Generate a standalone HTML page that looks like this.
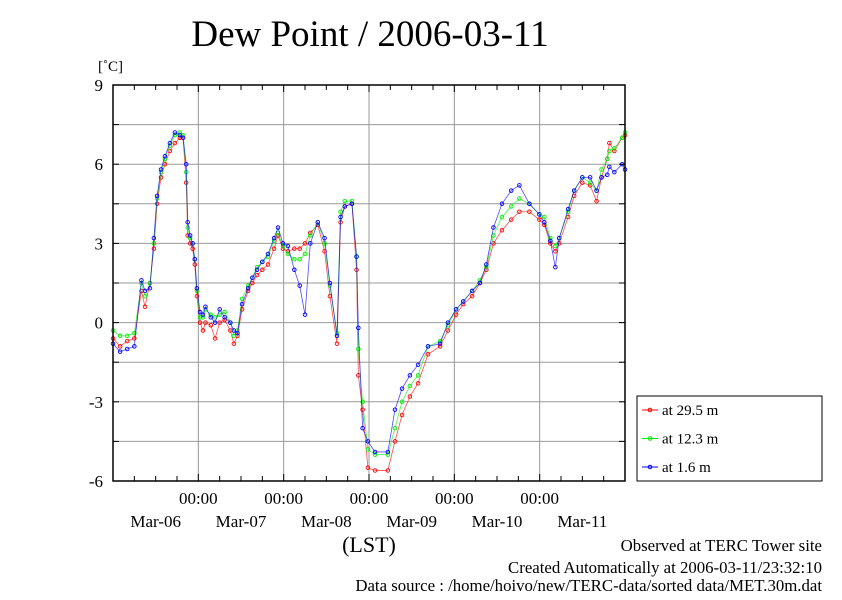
<!DOCTYPE html>
<html><head><meta charset="utf-8"><style>
body{margin:0;background:#fff;}
svg text{font-family:"Liberation Serif",serif;fill:#000;}
</style></head><body>
<svg id="chart" width="842" height="595" xmlns="http://www.w3.org/2000/svg">
<rect width="842" height="595" fill="#fff"/>
<text x="370" y="46" font-size="37" text-anchor="middle">Dew Point / 2006-03-11</text>
<text x="98" y="71" font-size="15">[˚C]</text>
<g id="grid"></g><g id="series"></g><g id="axes"></g>
<text x="369" y="552" font-size="22" text-anchor="middle">(LST)</text>
<text x="822" y="551" font-size="16.8" text-anchor="end">Observed at TERC Tower site</text>
<text x="822" y="573" font-size="16.8" text-anchor="end">Created Automatically at 2006-03-11/23:32:10</text>
<text x="822" y="591" font-size="16.8" text-anchor="end">Data source : /home/hoivo/new/TERC-data/sorted  data/MET.30m.dat</text>
<g id="legend"></g>
</svg>
<script>
const hours = [0,2,4,6,8,9,10.4,11.5,12.4,13.5,14.6,16,17.4,18.8,19.7,20.6,21,21.7,22.4,23,23.6,24.5,25.3,26,27.5,28.7,30,31.4,33,34,35,36.3,38,39.2,40.5,42,43.6,45.3,46.4,47.8,49.2,51,52.5,54,55.5,57.6,59.5,61,63,64,65.2,67.2,68.5,69,70.2,71.7,73.7,77.3,79.3,81.3,83.5,85.8,88.6,92,94.2,96.5,98.5,101,103.2,105,107,109.4,112,114.3,117.1,119.9,121.3,123,124.4,125.5,128,129.7,132,134.2,136,137.4,139,139.6,141,143.2,144];
const at295 = [-0.6,-0.9,-0.7,-0.6,1.2,0.6,1.5,2.8,4.5,5.5,6.0,6.5,6.8,7.0,7.0,5.3,3.3,3.0,2.8,2.2,1.0,0.0,-0.3,0.0,-0.1,-0.6,0.0,0.1,-0.3,-0.8,-0.5,0.5,1.2,1.5,1.8,2.0,2.2,2.8,3.3,2.8,2.7,2.8,2.8,3.0,3.4,3.7,2.7,1.0,-0.8,3.8,4.4,4.5,2.0,-2.0,-3.3,-5.5,-5.6,-5.6,-4.5,-3.5,-2.8,-2.3,-1.2,-0.9,-0.3,0.3,0.7,1.0,1.5,2.0,3.0,3.5,3.9,4.2,4.2,3.9,3.7,3.0,2.7,3.0,4.0,4.8,5.3,5.2,4.6,5.5,6.2,6.8,6.5,7.0,7.1];
const at123 = [-0.3,-0.5,-0.5,-0.4,1.5,1.0,1.5,3.0,4.7,5.7,6.2,6.7,7.1,7.2,7.1,5.7,3.6,3.2,3.0,2.4,1.2,0.2,0.2,0.5,0.3,0.2,0.3,0.4,0.0,-0.5,-0.3,0.9,1.4,1.7,2.1,2.3,2.5,3.1,3.4,2.9,2.6,2.4,2.4,2.6,3.3,3.8,3.0,1.4,-0.4,4.2,4.6,4.6,2.5,-1.0,-3.0,-4.8,-5.0,-5.0,-4.0,-3.0,-2.4,-2.0,-0.9,-0.7,-0.1,0.5,0.8,1.2,1.6,2.1,3.3,4.0,4.4,4.7,4.5,4.1,4.0,3.2,2.9,3.2,4.2,5.0,5.5,5.3,5.0,5.8,6.2,6.5,6.6,7.0,7.2];
const at16 = [-0.8,-1.1,-1.0,-0.9,1.6,1.2,1.3,3.2,4.8,5.8,6.3,6.8,7.2,7.1,7.0,6.0,3.8,3.3,3.0,2.4,1.3,0.4,0.3,0.6,0.2,0.0,0.5,0.2,0.0,-0.3,-0.4,0.7,1.3,1.7,2.0,2.3,2.6,3.2,3.6,3.0,2.9,2.0,1.4,0.3,3.0,3.8,3.2,1.5,-0.5,4.0,4.4,4.5,2.5,-0.2,-4.0,-4.5,-4.9,-4.9,-3.3,-2.5,-2.0,-1.6,-0.9,-0.8,0.0,0.5,0.8,1.2,1.5,2.2,3.6,4.5,5.0,5.2,4.5,4.1,3.8,3.1,2.1,3.2,4.3,5.0,5.5,5.5,5.0,5.5,5.6,5.9,5.7,6.0,5.8];
const yTicks = [9,6,3,0,-3,-6];
const dayLabels = ["Mar-06","Mar-07","Mar-08","Mar-09","Mar-10","Mar-11"];
const seriesNames = ["at 29.5 m","at 12.3 m","at 1.6 m"];

const L=113,R=625,T=85,B=481,NS="http://www.w3.org/2000/svg";
const xs=h=>L+(R-L)*h/144;
const ys=v=>T+(B-T)*(9-v)/15;
function mk(tag,attrs,parent){const e=document.createElementNS(NS,tag);for(const k in attrs)e.setAttribute(k,attrs[k]);parent.appendChild(e);return e;}
const grid=document.getElementById('grid'),axes=document.getElementById('axes'),ser=document.getElementById('series'),leg=document.getElementById('legend');
for(let v=-6;v<=9;v+=1.5){const l=mk('line',{x1:L,x2:R,y1:ys(v),y2:ys(v),stroke:'#999','stroke-width':1},grid);

mk('line',{x1:L,x2:L+6,y1:ys(v),y2:ys(v),stroke:'#000'},axes);mk('line',{x1:R-6,x2:R,y1:ys(v),y2:ys(v),stroke:'#000'},axes);}
for(let d=1;d<6;d++){const l=mk('line',{x1:xs(d*24),x2:xs(d*24),y1:T,y2:B,stroke:'#999'},grid);

const t=mk('text',{x:xs(d*24),y:504,'font-size':17,'text-anchor':'middle'},axes);t.textContent='00:00';
}
for(let h=6;h<144;h+=6){mk('line',{x1:xs(h),x2:xs(h),y1:B,y2:B-(h%24?5:7),stroke:'#000'},axes);mk('line',{x1:xs(h),x2:xs(h),y1:T,y2:T+(h%24?5:7),stroke:'#000'},axes);}
dayLabels.forEach((s,i)=>{const t=mk('text',{x:xs(i*24+12),y:527,'font-size':17,'text-anchor':'middle'},axes);t.textContent=s;
});
yTicks.forEach(v=>{const t=mk('text',{x:103,y:ys(v)+6,'font-size':17,'text-anchor':'end'},axes);t.textContent=v;
});
const fr=mk('rect',{x:L,y:T,width:R-L,height:B-T,fill:'none',stroke:'#000','stroke-width':1.5},axes);

const cols=['#ff0000','#00ee00','#0000ff'];
[at295,at123,at16].forEach((vals,si)=>{
 const g=mk('g',{},ser);
 const p=mk('polyline',{points:vals.map((v,i)=>xs(hours[i])+','+ys(v)).join(' '),fill:'none',stroke:cols[si],'stroke-width':0.8,'stroke-opacity':0.7},g);
 
 vals.forEach((v,i)=>{const c=mk('circle',{cx:xs(hours[i]),cy:ys(v),r:1.8,fill:'none',stroke:cols[si],'stroke-width':0.9},g);
 });
});
const lb=mk('rect',{x:637,y:396,width:185,height:85,fill:'#fff',stroke:'#000','stroke-width':1},leg);

seriesNames.forEach((s,i)=>{const y=410+i*28.5;
 const g=mk('g',{},leg);
 mk('line',{x1:642,x2:658,y1:y,y2:y,stroke:cols[i]},g);mk('circle',{cx:650,cy:y,r:1.8,fill:'none',stroke:cols[i]},g);
 const t=mk('text',{x:662,y:y+5,'font-size':15},g);t.textContent=s;});
</script>
</body></html>
